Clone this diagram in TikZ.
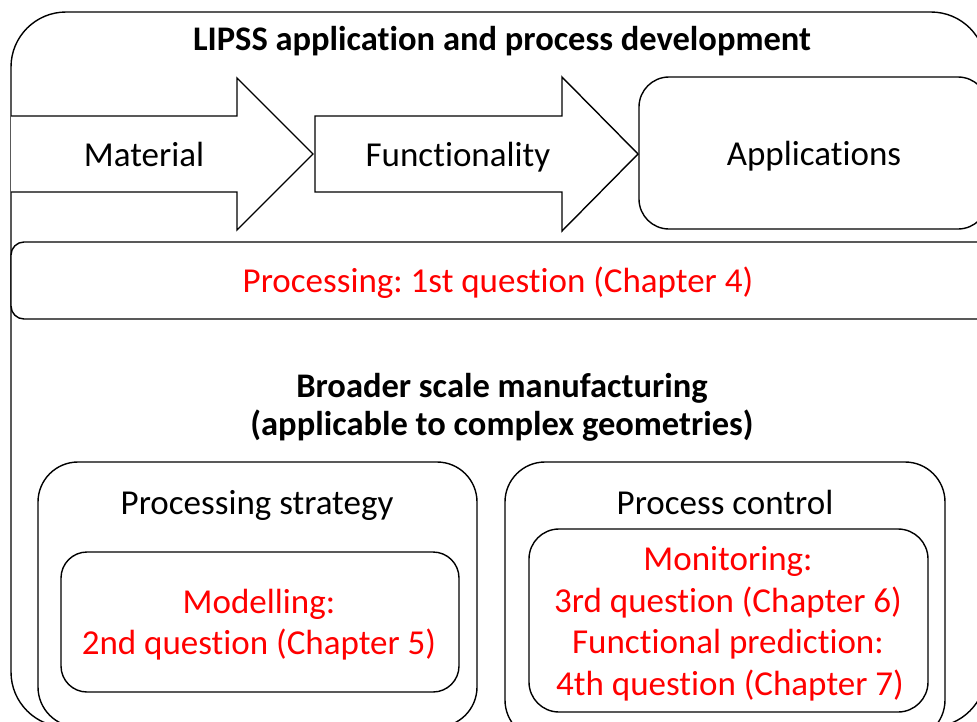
\documentclass[tikz,border=0pt]{standalone}
\usepackage{fontspec}
\setmainfont{Carlito}[Ligatures={NoCommon}]
\frenchspacing
\definecolor{qred}{RGB}{255,0,0}
\begin{document}
\begin{tikzpicture}[x=1pt,y=-1pt,
  frame/.style={draw=black, line width=1.4pt, fill=white},
  lbl/.style={font=\fontsize{35}{41.5}\selectfont, inner sep=0pt, anchor=base, text=black},
  redlbl/.style={lbl, text=qred},
  ttl/.style={font=\fontsize{34.5}{41.5}\selectfont\bfseries, inner sep=0pt, anchor=base, text=black},
]
\useasboundingbox (0,0) rectangle (977,721);
\clip (0,0) rectangle (977,721);
% outer frame
\draw[frame, rounded corners=55pt] (11,12) rectangle (986,727);
\node[ttl] (title) at (502,50) {LIPSS application and process development};
% arrows
\draw[frame, line join=miter] (11,116) -- (237,116) -- (237,78) -- (313,154) -- (237,230) -- (237,192) -- (11,192);
\draw[frame, line join=miter] (315,116) -- (562,116) -- (562,77) -- (638,154) -- (562,231) -- (562,192) -- (315,192) -- cycle;
\node[lbl] (material) at (144,166) {Material};
\node[lbl] (function) at (458,166) {Functionality};
\draw[frame, rounded corners=30pt] (639,77) rectangle (988,229);
\node[lbl] (apps) at (814,165) {Applications};
% processing bar
\draw[frame, rounded corners=13pt] (11,242) rectangle (995,319);
\node[redlbl] (proc) at (498,292) {Processing: 1st question (Chapter 4)};
% broader
\node[ttl] (broad1) at (502,397) {Broader scale manufacturing};
\node[ttl] (broad2) at (502,435) {(applicable to complex geometries)};
% processing strategy
\draw[frame, rounded corners=40pt] (38,462) rectangle (477,727);
\node[lbl] (strategy) at (257,514) {Processing strategy};
\draw[frame, rounded corners=26pt] (61,552) rectangle (459,692);
\node[redlbl] (model1) at (259,613) {Modelling:};
\node[redlbl] (model2) at (259,654) {2nd question (Chapter 5)};
% process control
\draw[frame, rounded corners=40pt] (505,462) rectangle (945,740);
\node[lbl] (control) at (725,514) {Process control};
\draw[frame, rounded corners=30pt] (529,529) rectangle (928,712);
\node[redlbl] (mon1) at (728,570) {Monitoring:};
\node[redlbl] (mon2) at (728,612) {3rd question (Chapter 6)};
\node[redlbl] (mon3) at (728,653) {Functional prediction:};
\node[redlbl] (mon4) at (730,695) {4th question (Chapter 7)};
\end{tikzpicture}
\end{document}
